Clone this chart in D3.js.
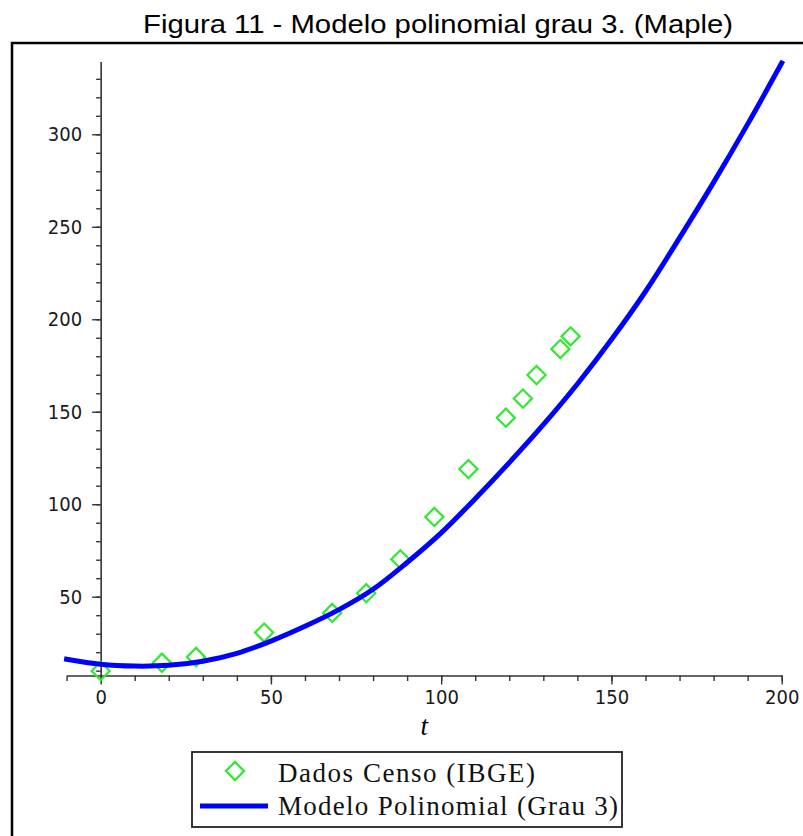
<!DOCTYPE html>
<html>
<head>
<meta charset="utf-8">
<script src="https://cdn.jsdelivr.net/npm/d3@7"></script>
<style>
  body { margin: 0; background: #fff; }
</style>
</head>
<body>
<div id="chart"></div>
<script>
// census data (t = years since 1872, population in millions)
var censoT = [0, 18, 28, 48, 68, 78, 88, 98, 108, 119, 124, 128, 135, 138];
var censoPop = [9.9, 14.3, 17.4, 30.6, 41.2, 51.9, 70.2, 93.1, 119.0, 146.8, 157.1, 169.8, 183.9, 190.8];

// polynomial model curve
var modeloT = [-10, 0, 10, 20, 30, 40, 50, 60, 70, 80, 90, 100, 110, 120, 130, 140, 150, 160, 170, 180, 190, 200];
var modeloPop = [16.2, 13.5, 12.5, 12.9, 15.1, 19.4, 26, 34, 43, 54, 68.5, 84.5, 103, 122.5, 143, 165, 189, 215, 244, 274, 305.5, 338.5];

var xMajor = [0, 50, 100, 150, 200];
var yMajor = [50, 100, 150, 200, 250, 300];

var W = 803, H = 836;

var svg = d3.select("#chart")
    .append("svg")
    .attr("width", W)
    .attr("height", H);

svg.append("rect").attr("width", W).attr("height", H).attr("fill", "#fff");

// title
svg.append("text")
    .attr("x", 143)
    .attr("y", 33)
    .attr("textLength", 590)
    .attr("lengthAdjust", "spacingAndGlyphs")
    .style("font-family", "Liberation Sans, Arial, sans-serif")
    .style("font-size", "26px")
    .style("fill", "#000")
    .text("Figura 11 - Modelo polinomial grau 3. (Maple)");

// frame
svg.append("rect")
    .attr("x", 12)
    .attr("y", 43)
    .attr("width", 900)
    .attr("height", 900)
    .attr("fill", "none")
    .attr("stroke", "#000")
    .attr("stroke-width", 2.5);

var x = d3.scaleLinear().domain([-10, 200]).range([66.6, 781.7]);
var y = d3.scaleLinear().domain([7.4, 339.3]).range([675.5, 61.6]);

var tickFont = "DejaVu Sans Condensed, DejaVu Sans, sans-serif";

function styleLabels(g) {
    g.selectAll(".tick text")
        .style("font-family", tickFont)
        .style("font-stretch", "condensed")
        .style("font-size", "20px")
        .style("fill", "#1a1a1a");
}

// y axis: minor ticks then major
var yAxisX = x(0);
svg.append("g")
    .attr("transform", "translate(" + yAxisX + ",0)")
    .call(d3.axisLeft(y).tickValues(d3.range(10, 331, 10)).tickSize(4.5).tickSizeOuter(0).tickFormat(""))
    .call(function (g) {
        g.select(".domain").attr("stroke", "#333").attr("stroke-width", 1.6);
        g.selectAll(".tick line").attr("stroke", "#333").attr("stroke-width", 1.4);
    });
svg.append("g")
    .attr("transform", "translate(" + yAxisX + ",0)")
    .call(d3.axisLeft(y).tickValues(yMajor).tickSize(8.5).tickSizeOuter(0).tickPadding(10))
    .call(function (g) {
        g.select(".domain").remove();
        g.selectAll(".tick line").attr("stroke", "#333").attr("stroke-width", 1.4);
        styleLabels(g);
    });

// x axis
var xAxisY = y(7.4);
svg.append("g")
    .attr("transform", "translate(0," + xAxisY + ")")
    .call(d3.axisBottom(x).tickValues(d3.range(-10, 201, 10)).tickSize(5.5).tickSizeOuter(0).tickFormat(""))
    .call(function (g) {
        g.select(".domain").attr("stroke", "#333").attr("stroke-width", 1.6);
        g.selectAll(".tick line").attr("stroke", "#333").attr("stroke-width", 1.4);
    });
svg.append("g")
    .attr("transform", "translate(0," + xAxisY + ")")
    .call(d3.axisBottom(x).tickValues(xMajor).tickSize(9).tickSizeOuter(0).tickPadding(5))
    .call(function (g) {
        g.select(".domain").remove();
        g.selectAll(".tick line").attr("stroke", "#333").attr("stroke-width", 1.4);
        styleLabels(g);
    });

// axis label
svg.append("text")
    .attr("x", x(95))
    .attr("y", 735)
    .attr("text-anchor", "middle")
    .style("font-family", "Liberation Serif, Times New Roman, serif")
    .style("font-style", "italic")
    .style("font-size", "27px")
    .text("t");

var diamond = d3.symbol().type(d3.symbolSquare).size(165);
var green = "#2fe82f";
var blue = "#0000ff";

// data points
svg.append("g")
    .selectAll("path")
    .data(censoT)
    .enter()
    .append("path")
    .attr("d", diamond)
    .attr("transform", function (d, i) {
        return "translate(" + x(d) + "," + y(censoPop[i]) + ") rotate(45)";
    })
    .attr("fill", "none")
    .attr("stroke", green)
    .attr("stroke-width", 2.2);

// model curve
var line = d3.line()
    .x(function (d) { return x(d); })
    .y(function (d, i) { return y(modeloPop[i]); })
    .curve(d3.curveCatmullRom);

svg.append("path")
    .datum(modeloT)
    .attr("d", line)
    .attr("fill", "none")
    .attr("stroke", blue)
    .attr("stroke-width", 5)
    .attr("stroke-linecap", "square");

// legend
var lg = svg.append("g");
lg.append("rect")
    .attr("x", 192)
    .attr("y", 752)
    .attr("width", 430)
    .attr("height", 75)
    .attr("fill", "#fff")
    .attr("stroke", "#222")
    .attr("stroke-width", 1.8);
lg.append("path")
    .attr("d", diamond)
    .attr("transform", "translate(235,771) rotate(45)")
    .attr("fill", "none")
    .attr("stroke", green)
    .attr("stroke-width", 2.2);
lg.append("line")
    .attr("x1", 200).attr("x2", 268)
    .attr("y1", 806).attr("y2", 806)
    .attr("stroke", blue)
    .attr("stroke-width", 5);
lg.append("text")
    .attr("x", 278)
    .attr("y", 782)
    .attr("textLength", 257)
    .style("font-family", "Liberation Serif, Times New Roman, serif")
    .style("font-size", "27px")
    .style("fill", "#111")
    .text("Dados Censo (IBGE)");
lg.append("text")
    .attr("x", 278)
    .attr("y", 815)
    .attr("textLength", 340)
    .style("font-family", "Liberation Serif, Times New Roman, serif")
    .style("font-size", "27px")
    .style("fill", "#111")
    .text("Modelo Polinomial (Grau 3)");
</script>
</body>
</html>
